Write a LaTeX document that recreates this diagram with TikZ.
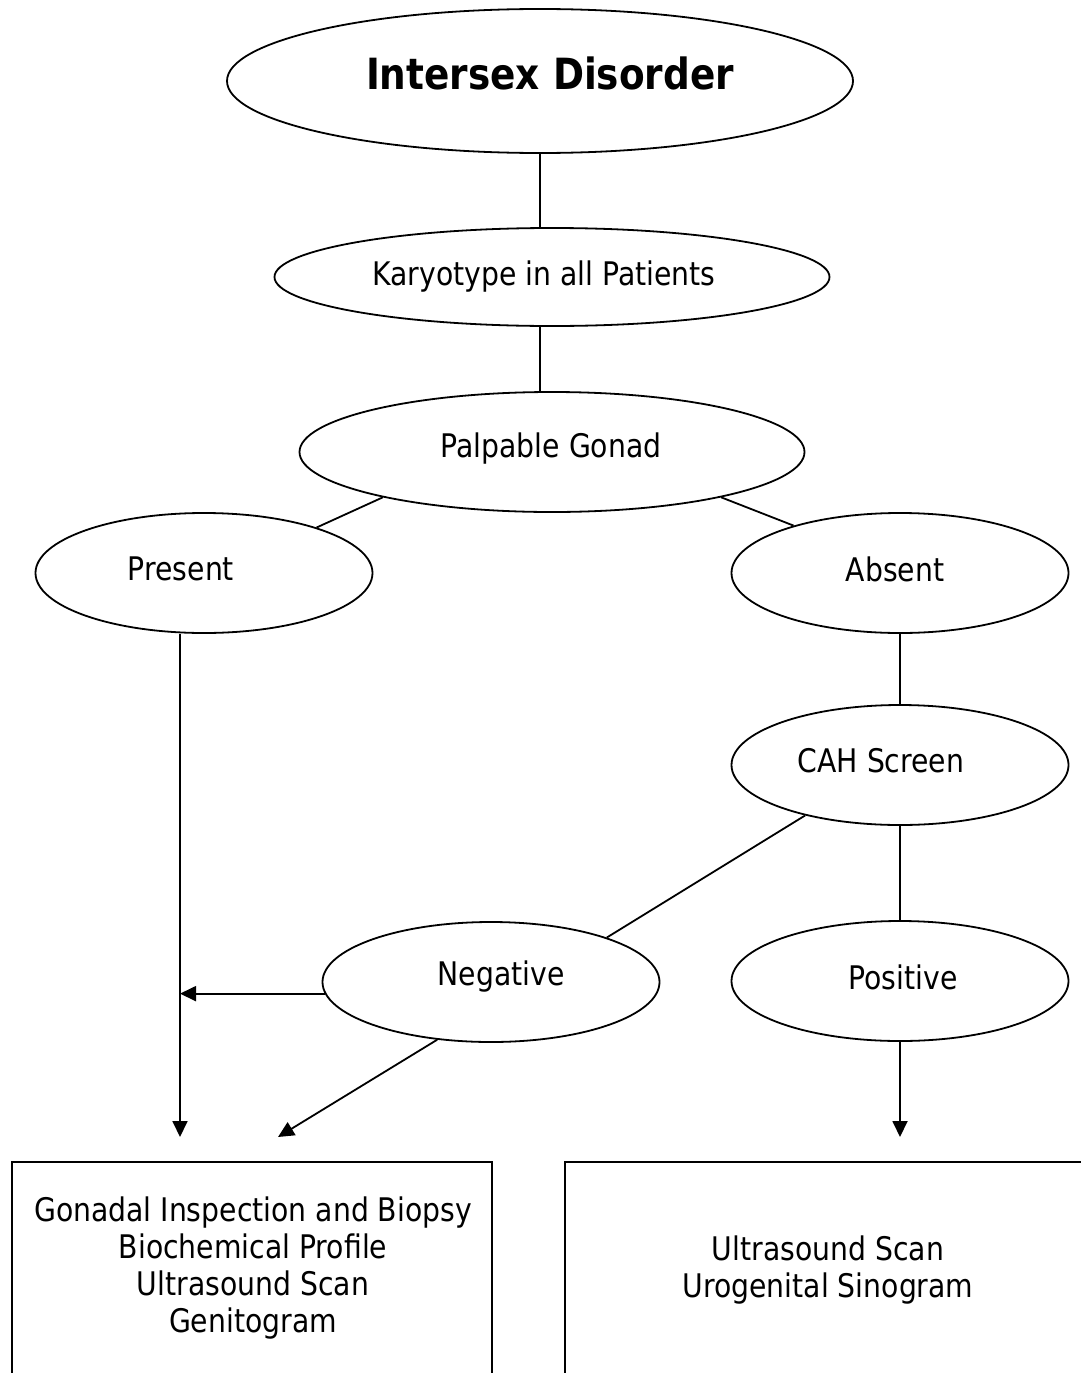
\documentclass[tikz,border=0pt]{standalone}
\usepackage{fontspec}
\setmainfont{DejaVu Sans}[FakeStretch=0.87]
\usetikzlibrary{shapes.geometric,arrows.meta}
\begin{document}
\begin{tikzpicture}[x=1pt,y=-1pt,
  oval/.style={ellipse,draw,line width=1.8pt,inner sep=0pt},
  ovaltext/.style={inner sep=0pt,font=\fontsize{32.5}{37}\selectfont},
  conn/.style={line width=1.8pt},
  arr/.style={line width=1.8pt,-{Triangle[length=16pt,width=15pt]}},
  boxline/.style={line width=1.8pt},
  boxtext/.style={align=center,inner sep=0pt,font=\fontsize{32.5}{37}\selectfont}]
\useasboundingbox (0,0) rectangle (1080,1373);
\fill[white] (0,0) rectangle (1080,1373);
% nodes
\node[oval,minimum width=626pt,minimum height=144pt] (intersex) at (540,81) {};
\node[ovaltext,font=\fontsize{43}{48}\selectfont\bfseries] (tintersex) at (550,73) {Intersex Disorder};
\node[oval,minimum width=555pt,minimum height=98pt] (karyo) at (552,277) {};
\node[ovaltext] (tkaryo) at (544,277) {Karyotype in all Patients};
\node[oval,minimum width=505pt,minimum height=120pt] (palp) at (552,452) {};
\node[ovaltext] (tpalp) at (551,449) {Palpable Gonad};
\node[oval,minimum width=337pt,minimum height=120pt] (present) at (204,573) {};
\node[ovaltext] (tpresent) at (181,569) {Present};
\node[oval,minimum width=337pt,minimum height=120pt] (absent) at (900,573) {};
\node[ovaltext] (tabsent) at (895,569) {Absent};
\node[oval,minimum width=337pt,minimum height=120pt] (cah) at (900,765) {};
\node[ovaltext] (tcah) at (881,761) {CAH Screen};
\node[oval,minimum width=337pt,minimum height=120pt] (neg) at (491,982) {};
\node[ovaltext] (tneg) at (501,977) {Negative};
\node[oval,minimum width=337pt,minimum height=120pt] (pos) at (900,981) {};
\node[ovaltext] (tpos) at (903,977) {Positive};
\coordinate (pend) at (180,1137);
\coordinate (nend) at (278,1137);
\coordinate (qend) at (900,1137);
% connectors
\draw[conn] (intersex.south) -- (intersex.south |- karyo.north);
\draw[conn] (karyo.south -| intersex.south) -- (palp.north -| intersex.south);
\draw[conn] (palp.195.3) -- (present.22.5);
\draw[conn] (palp.-15) -- (absent.156.3);
\draw[conn] (absent.south) -- (cah.north);
\draw[conn] (cah.208.2) -- (neg.21.6);
\draw[conn] (cah.south) -- (pos.north);
\draw[arr] (present.south -| pend) -- (pend);
\draw[arr] (neg.184) -- (neg.184 -| pend);
\draw[arr] (neg.227.6) -- (nend);
\draw[arr] (pos.south) -- (qend);
% result boxes
\draw[boxline] (12,1380) -- (12,1162) -- (492,1162) -- (492,1380);
\draw[boxline] (565,1380) -- (565,1162) -- (1085,1162);
\node[boxtext] (lefttext) at (253,1268) {Gonadal Inspection and Biopsy\\Biochemical Profile\\Ultrasound Scan\\Genitogram};
\node[boxtext] (righttext) at (828,1270) {Ultrasound Scan\\Urogenital Sinogram};
\end{tikzpicture}
\end{document}
